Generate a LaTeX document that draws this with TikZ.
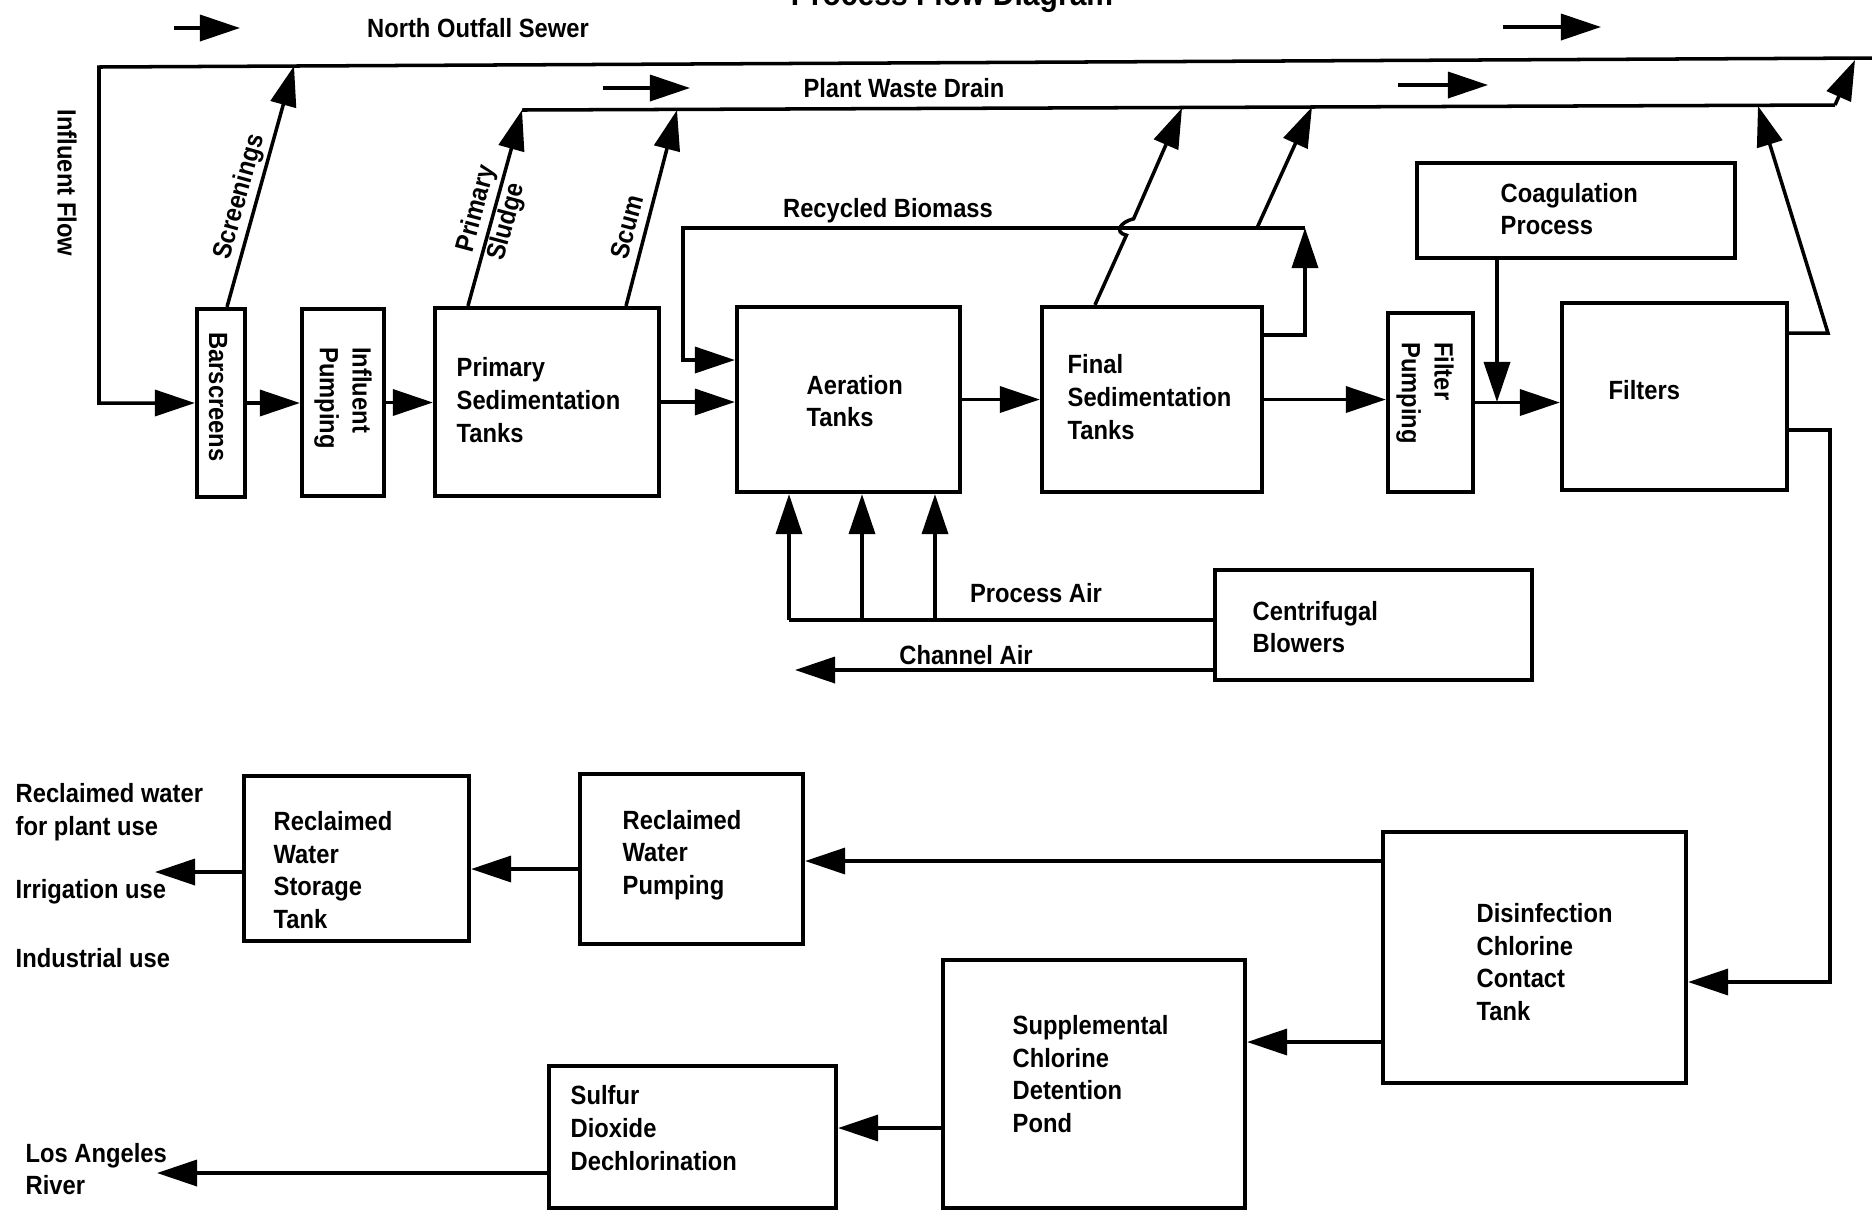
\documentclass[tikz,border=0pt]{standalone}
\usepackage{fontspec}
\setmainfont{Liberation Sans}[FakeStretch=0.9]
\usetikzlibrary{arrows.meta,fit}
\begin{document}
\begin{tikzpicture}[x=0.01cm, y=-0.01cm,
  box/.style={draw, line width=1.2pt, inner sep=0pt},
  txt/.style={font=\bfseries\fontsize{7.5}{9.3}\selectfont, inner sep=0pt, align=left},
  ln/.style={line width=1pt},
  flow/.style={ln, -{Triangle[length=0.4cm, width=0.26cm]}},
]
\useasboundingbox (0,0) rectangle (1872,1211);
\clip (0,0) rectangle (1872,1211);

% title (cut by the page top)
\node[txt, font=\bfseries\fontsize{9.5}{11}\selectfont, anchor=base] (title) at (952,5) {Process Flow Diagram};

% ---------- boxes ----------
\node[box, fit={(197,309) (245,497)}] (bs) {};
\node[box, fit={(302,309) (384,496)}] (ip) {};
\node[box, fit={(435,308) (659,496)}] (ps) {};
\node[box, fit={(737,307) (960,492)}] (at) {};
\node[box, fit={(1042,307) (1262,492)}] (fs) {};
\node[box, fit={(1388,313) (1473,492)}] (fp) {};
\node[box, fit={(1562,303) (1787,490)}] (fl) {};
\node[box, fit={(1417,163) (1735,258)}] (cg) {};
\node[box, fit={(1215,570) (1532,680)}] (cb) {};
\node[box, fit={(580,774) (803,944)}] (rwp) {};
\node[box, fit={(244,776) (469,941)}] (rst) {};
\node[box, fit={(1383,832) (1686,1083)}] (dis) {};
\node[box, fit={(943,960) (1245,1208)}] (sup) {};
\node[box, fit={(549,1066) (836,1208)}] (so2) {};

% ---------- box texts ----------
\node[txt, rotate=-90] (bsT) at (218,397) {Barscreens};
\node[txt, rotate=-90] (ipT) at (343,398) {Influent\\Pumping};
\node[txt, anchor=west] (psT) at (456,400) {Primary\\Sedimentation\\Tanks};
\node[txt, anchor=west] (atT) at (806,401) {Aeration\\Tanks};
\node[txt, anchor=west] (fsT) at (1067,397) {Final\\Sedimentation\\Tanks};
\node[txt, rotate=-90] (fpT) at (1425,393) {Filter\\Pumping};
\node[txt, anchor=west] (flT) at (1608,390) {Filters};
\node[txt, anchor=west] (cgT) at (1500,209) {Coagulation\\Process};
\node[txt, anchor=west] (cbT) at (1252,627) {Centrifugal\\Blowers};
\node[txt, anchor=west] (rwpT) at (622,855) {Reclaimed\\Water\\Pumping};
\node[txt, anchor=west] (rstT) at (273,870) {Reclaimed\\Water\\Storage\\Tank};
\node[txt, anchor=west] (disT) at (1476,962) {Disinfection\\Chlorine\\Contact\\Tank};
\node[txt, anchor=west] (supT) at (1012,1074) {Supplemental\\Chlorine\\Detention\\Pond};
\node[txt, anchor=west] (so2T) at (570,1128) {Sulfur\\Dioxide\\Dechlorination};

% ---------- free labels ----------
\node[txt] (nos) at (478,28) {North Outfall Sewer};
\node[txt] (pwd) at (904,88) {Plant Waste Drain};
\node[txt] (rb) at (888,211) {Recycled Biomass};
\node[txt] (pal) at (1036,593) {Process Air};
\node[txt] (cal) at (966,655) {Channel Air};
\node[txt, rotate=-90] (infl) at (67,183) {Influent Flow};
\node[txt, rotate=74.5] (scl) at (240,197) {Screenings};
\node[txt, rotate=75] (psl) at (493,213) {Primary\\Sludge};
\node[txt, rotate=75] (scuml) at (627,227) {Scum};
\node[txt, anchor=west] (rwl) at (15,812) {Reclaimed water\\for plant use};
\node[txt, anchor=west] (irr) at (15,892) {Irrigation use};
\node[txt, anchor=west] (ind) at (15,958) {Industrial use};
\node[txt, anchor=west] (lar) at (25,1169) {Los Angeles\\River};

% ---------- direction arrows ----------
\coordinate (d1a) at (174,28);  \coordinate (d1b) at (240,28);
\coordinate (d2a) at (1503,27); \coordinate (d2b) at (1601,27);
\coordinate (d3a) at (603,88);  \coordinate (d3b) at (690,88);
\coordinate (d4a) at (1398,85); \coordinate (d4b) at (1488,85);
\draw[flow] (d1a) -- (d1b);
\draw[flow] (d2a) -- (d2b);
\draw[flow] (d3a) -- (d3b);
\draw[flow] (d4a) -- (d4b);

% ---------- sewer and drain ----------
\coordinate (ofR) at (1872,58);
\coordinate (ofL) at (99,67);
\coordinate (infC) at (99,403);
\draw[flow] (ofR) -- (ofL) -- (infC) -- (bs.west |- infC);

\coordinate (drL) at (522,110);
\coordinate (drR) at (1835,105);
\coordinate (drT) at (1855,60);
\draw[ln] (drL) -- (drR);
\draw[flow] (drR) -- (drT);

% ---------- main train ----------
\draw[flow] (bs.east) -- (ip.west |- bs.east);
\draw[flow] (ip.east) -- (ps.west |- ip.east);
\draw[flow] (ps.east) -- (at.west |- ps.east);
\draw[flow] (at.east) -- (fs.west |- at.east);
\draw[flow] (fs.east) -- (fp.west |- fs.east);
\draw[flow] (fp.east) -- (fl.west |- fp.east);
\coordinate (cgJ) at (1497,402);
\draw[flow] (cg.south -| cgJ) -- (cgJ);

% ---------- waste streams ----------
\coordinate (scT) at (294,66);
\coordinate (pslT) at (522,110);
\coordinate (scmT) at (677,110);
\draw[flow] ([xshift=0.06cm]bs.north) -- (scT);
\draw[flow] ([xshift=-0.79cm]ps.north) -- (pslT);
\draw[flow] ([xshift=0.79cm]ps.north) -- (scmT);

\coordinate (hop1) at (1126.4,235.2);
\coordinate (hop2) at (1133.6,218.8);
\coordinate (fwT1) at (1182,108);
\draw[flow] ([xshift=-0.57cm]fs.north) -- (hop1) .. controls +(-13,-3) and +(-13,3) .. (hop2) -- (fwT1);

\coordinate (rcW) at (1257,228);
\coordinate (fwT2) at (1312,107);
\draw[flow] (rcW) -- (fwT2);

\coordinate (fwC) at (1828,333);
\coordinate (fwT3) at (1758,106);
\draw[flow] (fl.east |- fwC) -- (fwC) -- (fwT3);

% ---------- recycled biomass ----------
\coordinate (rcR) at (1305,228);
\coordinate (rcL) at (683,228);
\coordinate (rcA) at (683,360);
\coordinate (rcB) at (1305,335);
\draw[flow] (fs.east |- rcB) -- (rcB) -- (rcR);
\draw[flow] (rcR) -- (rcL) -- (rcA) -- (at.west |- rcA);

% ---------- air ----------
\coordinate (pa1) at (789,620);
\coordinate (pa2) at (862,620);
\coordinate (pa3) at (935,620);
\draw[ln] (cb.west |- pa1) -- (pa1);
\draw[flow] (pa1) -- (at.south -| pa1);
\draw[flow] (pa2) -- (at.south -| pa2);
\draw[flow] (pa3) -- (at.south -| pa3);
\coordinate (caE) at (795,670);
\draw[flow] (cb.west |- caE) -- (caE);

% ---------- effluent ----------
\coordinate (fdA) at (1830,430);
\coordinate (fdB) at (1830,982);
\draw[flow] (fl.east |- fdA) -- (fdA) -- (fdB) -- (dis.east |- fdB);

\coordinate (rwY) at (1000,861);
\draw[flow] (dis.west |- rwY) -- (rwp.east |- rwY);
\coordinate (rsY) at (500,869);
\draw[flow] (rwp.west |- rsY) -- (rst.east |- rsY);
\coordinate (useT) at (155,872);
\draw[flow] (rst.west |- useT) -- (useT);
\coordinate (spY) at (1300,1042);
\draw[flow] (dis.west |- spY) -- (sup.east |- spY);
\coordinate (soY) at (900,1128);
\draw[flow] (sup.west |- soY) -- (so2.east |- soY);
\coordinate (laT) at (157,1173);
\draw[flow] (so2.west |- laT) -- (laT);
\end{tikzpicture}
\end{document}
